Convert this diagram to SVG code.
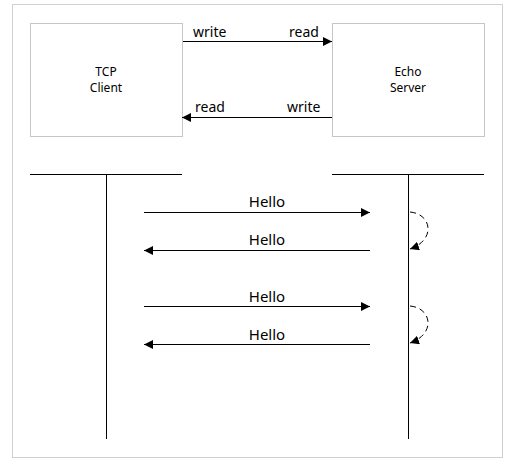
<svg xmlns="http://www.w3.org/2000/svg" width="520" height="467" viewBox="0 0 520 467">
<defs>
<marker id="ah" viewBox="0 0 10 10" refX="10" refY="5" markerWidth="9" markerHeight="9" markerUnits="userSpaceOnUse" orient="auto">
<path d="M0,0 L10,5 L0,10 z" fill="#000"/>
</marker>
<style>
.box{fill:#fff;stroke:#c6c6c6;stroke-width:1}
.ln{stroke:#000;stroke-width:1;fill:none}
.msg{stroke:#000;stroke-width:1;fill:none;marker-end:url(#ah)}
.loop{stroke:#000;stroke-width:1;fill:none;stroke-dasharray:6,4;marker-end:url(#ah)}
.t{font-family:"Noto Sans","Open Sans",sans-serif;fill:#000}
.s{font-size:12px;text-anchor:middle}
.m{font-size:14px}
.h{font-size:15px;text-anchor:middle}
</style>
</defs>
<rect x="12.5" y="4.5" width="490" height="453" fill="#fff" stroke="#d0d0d0"/>
<g id="client">
<rect class="box" x="30.5" y="23.5" width="152" height="113"/>
<text class="t s" x="106" y="76">TCP</text>
<text class="t s" x="106" y="92">Client</text>
</g>
<g id="server">
<rect class="box" x="332.5" y="23.5" width="152" height="113"/>
<text class="t s" x="408" y="76">Echo</text>
<text class="t s" x="408" y="92">Server</text>
</g>
<g id="client-lifeline">
<line class="ln" x1="30" y1="174.5" x2="182" y2="174.5"/>
<line class="ln" x1="106.5" y1="174" x2="106.5" y2="439"/>
</g>
<g id="server-lifeline">
<line class="ln" x1="332" y1="174.5" x2="484" y2="174.5"/>
<line class="ln" x1="408.5" y1="174" x2="408.5" y2="439"/>
</g>
<g id="connectors">
<line class="msg" x1="183" y1="41.5" x2="332" y2="41.5"/>
<text class="t m" x="193" y="37">write</text>
<text class="t m" x="289" y="37">read</text>
<line class="msg" x1="332" y1="117.5" x2="182" y2="117.5"/>
<text class="t m" x="195" y="112">read</text>
<text class="t m" x="287" y="112">write</text>
<line class="msg" x1="144" y1="212.5" x2="370" y2="212.5"/>
<text class="t h" x="267" y="207">Hello</text>
<line class="msg" x1="370" y1="250.5" x2="144" y2="250.5"/>
<text class="t h" x="267" y="245">Hello</text>
<line class="msg" x1="144" y1="306.5" x2="370" y2="306.5"/>
<text class="t h" x="267" y="302">Hello</text>
<line class="msg" x1="370" y1="344.5" x2="144" y2="344.5"/>
<text class="t h" x="267" y="340">Hello</text>
<path class="loop" d="M410,212 C432,214 436,240 410,249"/>
<path class="loop" d="M410,306 C432,308 436,334 410,343"/>
</g>
</svg>
